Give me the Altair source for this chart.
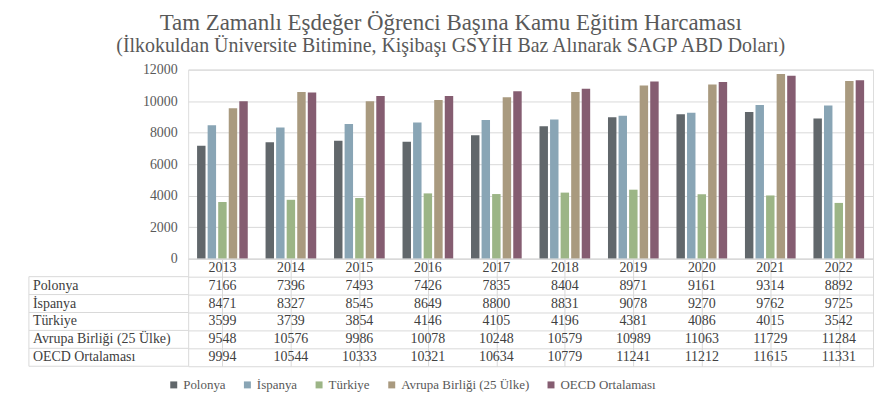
import altair as alt
import pandas as pd

years = ["2013", "2014", "2015", "2016", "2017", "2018", "2019", "2020", "2021", "2022"]
series = ["Polonya", "İspanya", "Türkiye", "Avrupa Birliği (25 Ülke)", "OECD Ortalaması"]
polonya = [7166, 7396, 7493, 7426, 7835, 8404, 8971, 9161, 9314, 8892]
ispanya = [8471, 8327, 8545, 8649, 8800, 8831, 9078, 9270, 9762, 9725]
turkiye = [3599, 3739, 3854, 4146, 4105, 4196, 4381, 4086, 4015, 3542]
ab25 = [9548, 10576, 9986, 10078, 10248, 10579, 10989, 11063, 11729, 11284]
oecd = [9994, 10544, 10333, 10321, 10634, 10779, 11241, 11212, 11615, 11331]
colors = ["#61676b", "#89a5b5", "#9cb586", "#a99a7f", "#855d71"]
y_ticks = [0, 2000, 4000, 6000, 8000, 10000, 12000]

values = [polonya, ispanya, turkiye, ab25, oecd]
FONT = "Liberation Serif"
GRID = "#d9d9d9"
TXT = "#404040"
LAB = "#595959"
FS = 14

rows = []
for s, vals in zip(series, values):
    for y, v in zip(years, vals):
        rows.append({"year": y, "series": s, "value": v})
df = pd.DataFrame(rows)

HDR = "Yıl"
row_domain = [HDR] + series
tab = [{"year": y, "row": HDR, "label": y} for y in years]
tab += [{"year": r["year"], "row": r["series"], "label": str(r["value"])} for r in rows]
tdf = pd.DataFrame(tab)
ldf = pd.DataFrame({"row": series})
one = pd.DataFrame({"k": [0]})

W = 688
BH = 190
TH = 108
LW = 160

bars = alt.Chart(df).mark_bar().encode(
    x=alt.X("year:N", sort=years, axis=None,
            scale=alt.Scale(domain=years, paddingInner=0.26, paddingOuter=0.13)),
    xOffset=alt.XOffset("series:N", sort=series,
                        scale=alt.Scale(domain=series, paddingInner=0.2)),
    y=alt.Y("value:Q", scale=alt.Scale(domain=[0, 12000]),
            axis=alt.Axis(values=y_ticks, format="d", title=None, grid=True, gridColor=GRID,
                          ticks=False, domain=False, labelFont=FONT, labelFontSize=FS,
                          labelColor=LAB, labelPadding=11)),
    color=alt.Color("series:N", sort=series,
                    scale=alt.Scale(domain=series, range=colors),
                    legend=alt.Legend(title=None, orient="none", direction="horizontal",
                                      legendX=-21, legendY=310, symbolType="square",
                                      symbolSize=49, symbolStrokeWidth=0,
                                      labelFont=FONT, labelFontSize=13, labelColor=LAB,
                                      labelOffset=3, columnPadding=15)),
).properties(width=W, height=BH)

xs = alt.X("year:N", sort=years,
           scale=alt.Scale(domain=years, paddingInner=0, paddingOuter=0),
           axis=alt.Axis(grid=True, bandPosition=0, gridColor=GRID, labels=False,
                         ticks=False, domain=False, title=None))
ys = alt.Y("row:N", sort=row_domain,
           scale=alt.Scale(domain=row_domain, paddingInner=0, paddingOuter=0),
           axis=alt.Axis(grid=True, bandPosition=0, gridColor=GRID, labels=False,
                         ticks=False, domain=False, title=None))

cells = alt.Chart(tdf).mark_text(font=FONT, fontSize=FS, color=TXT).encode(
    x=xs, y=ys, text="label:N")

row_labels = alt.Chart(ldf).mark_text(font=FONT, fontSize=FS, color=TXT,
                                      align="left").encode(
    x=alt.value(-LW + 4), y=alt.Y("row:N", sort=row_domain), text="row:N")

row_lines = alt.Chart(ldf).mark_rule(color=GRID, strokeWidth=1).encode(
    y=alt.Y("row:N", sort=row_domain, bandPosition=0),
    x=alt.value(-LW), x2=alt.value(0))

bottom_line = alt.Chart(one).mark_rule(color=GRID, strokeWidth=1).encode(
    y=alt.value(TH), x=alt.value(-LW), x2=alt.value(0))
left_line = alt.Chart(one).mark_rule(color=GRID, strokeWidth=1).encode(
    x=alt.value(-LW), y=alt.value(TH / 6), y2=alt.value(TH))

table = alt.layer(cells, row_labels, row_lines, bottom_line, left_line).properties(
    width=W, height=TH, view=alt.ViewBackground(stroke=GRID, strokeWidth=1))

chart = alt.vconcat(bars, table, spacing=0, bounds="flush").properties(
    title=alt.TitleParams(
        text="Tam Zamanlı Eşdeğer Öğrenci Başına Kamu Eğitim Harcaması",
        subtitle="(İlkokuldan Üniversite Bitimine, Kişibaşı GSYİH Baz Alınarak SAGP ABD Doları)",
        font=FONT, fontSize=23, fontWeight="normal", color=LAB,
        subtitleFont=FONT, subtitleFontSize=20, subtitleColor=LAB,
        anchor="middle", offset=6, subtitlePadding=1),
    padding={"left": 20, "top": 3, "right": 4, "bottom": 4},
).configure_view(stroke=None).configure(font=FONT)

chart.save("out.html", embed_options={"renderer": "svg", "actions": False})
